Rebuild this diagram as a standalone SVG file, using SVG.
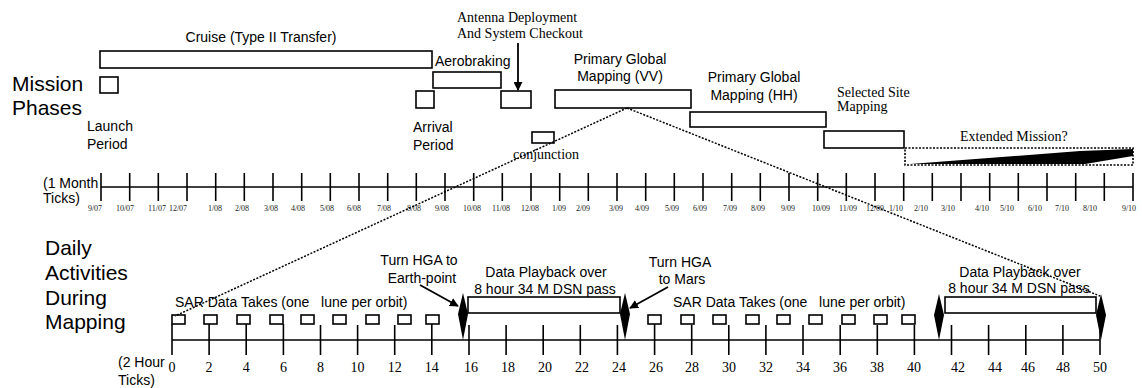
<svg xmlns="http://www.w3.org/2000/svg" width="1142" height="388" viewBox="0 0 1142 388">
<defs>
<style>
.box{fill:none;stroke:#000;stroke-width:1.6}
.sans{font-family:"Liberation Sans",Arial,sans-serif;font-size:14px;fill:#000}
.big{font-family:"Liberation Sans",Arial,sans-serif;font-size:21px;fill:#000}
.serif{font-family:"Liberation Serif","Times New Roman",serif;font-size:14px;fill:#000}
.mon{font-family:"Liberation Serif","Times New Roman",serif;font-size:8px;fill:#222;text-anchor:middle}
.hr{font-family:"Liberation Serif","Times New Roman",serif;font-size:14px;fill:#000;text-anchor:middle}
.tick{stroke:#000;stroke-width:1.6}
.dot{fill:none;stroke:#000;stroke-width:1.5;stroke-dasharray:2,1.5}
.arr{fill:none;stroke:#000;stroke-width:1.8}
.sq{fill:#fff;stroke:#000;stroke-width:1.6}
.dia{fill:#000;stroke:none}
</style>
<marker id="ah" viewBox="0 0 10 10" refX="9" refY="5" markerWidth="5" markerHeight="5" orient="auto" markerUnits="strokeWidth">
<path d="M0,0 L10,5 L0,10 z" fill="#000"/>
</marker>
</defs>
<rect width="1142" height="388" fill="#fff"/>

<!-- Titles -->
<g id="title-mission">
<text class="big" x="12" y="91">Mission</text>
<text class="big" x="12" y="115">Phases</text>
</g>
<g id="title-daily">
<text class="big" x="45" y="255">Daily</text>
<text class="big" x="45" y="280">Activities</text>
<text class="big" x="45" y="305">During</text>
<text class="big" x="45" y="329">Mapping</text>
</g>

<!-- Mission phases -->
<g id="phase-cruise">
<rect class="box" x="100" y="51" width="332" height="17"/>
<text class="sans" x="261" y="42" text-anchor="middle">Cruise (Type II Transfer)</text>
</g>
<g id="phase-launch">
<rect class="box" x="100" y="77" width="18" height="16"/>
<text class="sans" x="87" y="131">Launch</text>
<text class="sans" x="87" y="149">Period</text>
</g>
<g id="phase-aerobraking">
<rect class="box" x="433" y="72" width="68" height="16"/>
<text class="sans" x="435" y="66">Aerobraking</text>
</g>
<g id="phase-arrival">
<rect class="box" x="416" y="91" width="18" height="17"/>
<text class="sans" x="413" y="132">Arrival</text>
<text class="sans" x="413" y="150">Period</text>
</g>
<g id="phase-antenna">
<rect class="box" x="501" y="91" width="30" height="17"/>
<text class="serif" x="457" y="22">Antenna Deployment</text>
<text class="serif" x="457" y="38">And System Checkout</text>
</g>
<g id="phase-conjunction">
<rect class="box" x="532" y="132" width="22" height="11"/>
<text class="serif" x="513" y="159">conjunction</text>
</g>
<g id="phase-pgm-vv">
<rect class="box" x="555" y="90" width="136" height="18"/>
<text class="sans" x="620" y="64" text-anchor="middle">Primary Global</text>
<text class="sans" x="620" y="81" text-anchor="middle">Mapping (VV)</text>
</g>
<g id="phase-pgm-hh">
<rect class="box" x="690" y="112" width="136" height="15"/>
<text class="sans" x="754" y="82" text-anchor="middle">Primary Global</text>
<text class="sans" x="754" y="100" text-anchor="middle">Mapping (HH)</text>
</g>
<g id="phase-selected">
<rect class="box" x="824" y="131" width="80" height="17"/>
<text class="serif" x="837" y="97">Selected Site</text>
<text class="serif" x="837" y="111">Mapping</text>
</g>
<g id="phase-extended">
<rect x="905" y="148" width="228" height="17" fill="none" stroke="#000" stroke-width="1.6" stroke-dasharray="2,1.5"/>
<polygon points="910,164 1080,151 1133,149 1133,156 1085,164" fill="#000"/>
<text class="serif" x="960" y="141">Extended Mission?</text>
</g>

<!-- Month axis -->
<g id="month-axis">
<text class="sans" x="43" y="188">(1 Month</text>
<text class="sans" x="43" y="203">Ticks)</text>
<line class="tick" x1="101" y1="187" x2="1133" y2="187"/>
<g class="tick">
<line x1="101" y1="173" x2="101" y2="201"/><line x1="129.7" y1="173" x2="129.7" y2="201"/><line x1="158.3" y1="173" x2="158.3" y2="201"/><line x1="187" y1="173" x2="187" y2="201"/><line x1="215.7" y1="173" x2="215.7" y2="201"/><line x1="244.3" y1="173" x2="244.3" y2="201"/><line x1="273" y1="173" x2="273" y2="201"/><line x1="301.7" y1="173" x2="301.7" y2="201"/><line x1="330.3" y1="173" x2="330.3" y2="201"/><line x1="359" y1="173" x2="359" y2="201"/><line x1="387.7" y1="173" x2="387.7" y2="201"/><line x1="416.3" y1="173" x2="416.3" y2="201"/><line x1="445" y1="173" x2="445" y2="201"/><line x1="473.7" y1="173" x2="473.7" y2="201"/><line x1="502.3" y1="173" x2="502.3" y2="201"/><line x1="531" y1="173" x2="531" y2="201"/><line x1="559.7" y1="173" x2="559.7" y2="201"/><line x1="588.3" y1="173" x2="588.3" y2="201"/><line x1="617" y1="173" x2="617" y2="201"/><line x1="645.7" y1="173" x2="645.7" y2="201"/><line x1="674.3" y1="173" x2="674.3" y2="201"/><line x1="703" y1="173" x2="703" y2="201"/><line x1="731.7" y1="173" x2="731.7" y2="201"/><line x1="760.3" y1="173" x2="760.3" y2="201"/><line x1="789" y1="173" x2="789" y2="201"/><line x1="817.7" y1="173" x2="817.7" y2="201"/><line x1="846.3" y1="173" x2="846.3" y2="201"/><line x1="875" y1="173" x2="875" y2="201"/><line x1="903.7" y1="173" x2="903.7" y2="201"/><line x1="932.3" y1="173" x2="932.3" y2="201"/><line x1="961" y1="173" x2="961" y2="201"/><line x1="989.7" y1="173" x2="989.7" y2="201"/><line x1="1018.3" y1="173" x2="1018.3" y2="201"/><line x1="1047" y1="173" x2="1047" y2="201"/><line x1="1075.7" y1="173" x2="1075.7" y2="201"/><line x1="1104.3" y1="173" x2="1104.3" y2="201"/><line x1="1133" y1="173" x2="1133" y2="201"/>
</g>
<g>
<text class="mon" x="95" y="211">9/07</text><text class="mon" x="125" y="211">10/07</text><text class="mon" x="157" y="211">11/07</text><text class="mon" x="178" y="211">12/07</text><text class="mon" x="215" y="211">1/08</text><text class="mon" x="242" y="211">2/08</text><text class="mon" x="271" y="211">3/08</text><text class="mon" x="298" y="211">4/08</text><text class="mon" x="327" y="211">5/08</text><text class="mon" x="354" y="211">6/08</text><text class="mon" x="384" y="211">7/08</text><text class="mon" x="414" y="211">8/08</text><text class="mon" x="442" y="211">9/08</text><text class="mon" x="472" y="211">10/08</text><text class="mon" x="501" y="211">11/08</text><text class="mon" x="530" y="211">12/08</text><text class="mon" x="559" y="211">1/09</text><text class="mon" x="583" y="211">2/09</text><text class="mon" x="616" y="211">3/09</text><text class="mon" x="642" y="211">4/09</text><text class="mon" x="672" y="211">5/09</text><text class="mon" x="700" y="211">6/09</text><text class="mon" x="730" y="211">7/09</text><text class="mon" x="758" y="211">8/09</text><text class="mon" x="788" y="211">9/09</text><text class="mon" x="821" y="211">10/09</text><text class="mon" x="848" y="211">11/09</text><text class="mon" x="875" y="211">12/09</text><text class="mon" x="896" y="211">1/10</text><text class="mon" x="921" y="211">2/10</text><text class="mon" x="948" y="211">3/10</text><text class="mon" x="982" y="211">4/10</text><text class="mon" x="1007" y="211">5/10</text><text class="mon" x="1035" y="211">6/10</text><text class="mon" x="1062" y="211">7/10</text><text class="mon" x="1090" y="211">8/10</text><text class="mon" x="1129" y="211">9/10</text>
</g>
</g>

<!-- Hour axis -->
<g id="hour-axis">
<text class="sans" x="118" y="367">(2 Hour</text>
<text class="sans" x="118" y="385">Ticks)</text>
<line class="tick" x1="172" y1="340" x2="1100" y2="340"/>
<g class="tick">
<line x1="172" y1="324" x2="172" y2="355"/><line x1="209.1" y1="324" x2="209.1" y2="355"/><line x1="246.2" y1="324" x2="246.2" y2="355"/><line x1="283.4" y1="324" x2="283.4" y2="355"/><line x1="320.5" y1="325" x2="320.5" y2="355"/><line x1="357.6" y1="325" x2="357.6" y2="355"/><line x1="394.7" y1="325" x2="394.7" y2="355"/><line x1="431.8" y1="324" x2="431.8" y2="355"/><line x1="469" y1="325" x2="469" y2="355"/><line x1="506.1" y1="325" x2="506.1" y2="355"/><line x1="543.2" y1="325" x2="543.2" y2="355"/><line x1="580.3" y1="325" x2="580.3" y2="355"/><line x1="617.4" y1="325" x2="617.4" y2="355"/><line x1="654.6" y1="324" x2="654.6" y2="355"/><line x1="691.7" y1="325" x2="691.7" y2="355"/><line x1="728.8" y1="325" x2="728.8" y2="355"/><line x1="765.9" y1="325" x2="765.9" y2="355"/><line x1="803" y1="325" x2="803" y2="355"/><line x1="840.2" y1="325" x2="840.2" y2="355"/><line x1="877.3" y1="325" x2="877.3" y2="355"/><line x1="914.4" y1="325" x2="914.4" y2="355"/><line x1="951.5" y1="325" x2="951.5" y2="355"/><line x1="988.6" y1="325" x2="988.6" y2="355"/><line x1="1025.8" y1="325" x2="1025.8" y2="355"/><line x1="1062.9" y1="325" x2="1062.9" y2="355"/><line x1="1100" y1="325" x2="1100" y2="355"/>
</g>
<g>
<text class="hr" x="172" y="372">0</text><text class="hr" x="209.1" y="372">2</text><text class="hr" x="246.2" y="372">4</text><text class="hr" x="283.4" y="372">6</text><text class="hr" x="320.5" y="372">8</text><text class="hr" x="357.6" y="372">10</text><text class="hr" x="394.7" y="372">12</text><text class="hr" x="431.8" y="372">14</text><text class="hr" x="471" y="372">16</text><text class="hr" x="508" y="372">18</text><text class="hr" x="545" y="372">20</text><text class="hr" x="582" y="372">22</text><text class="hr" x="619" y="372">24</text><text class="hr" x="656" y="372">26</text><text class="hr" x="692" y="372">28</text><text class="hr" x="729" y="372">30</text><text class="hr" x="766" y="372">32</text><text class="hr" x="803" y="372">34</text><text class="hr" x="840" y="372">36</text><text class="hr" x="877" y="372">38</text><text class="hr" x="914" y="372">40</text><text class="hr" x="958" y="372">42</text><text class="hr" x="995" y="372">44</text><text class="hr" x="1028" y="372">46</text><text class="hr" x="1063" y="372">48</text><text class="hr" x="1100" y="372">50</text>
</g>
</g>

<!-- SAR data takes -->
<g id="sar-1">
<text class="sans" x="175" y="307" xml:space="preserve">SAR Data Takes (one   lune per orbit)</text>
<rect class="sq" x="172" y="315" width="13" height="9"/><rect class="sq" x="204" y="315" width="13" height="9"/><rect class="sq" x="237" y="315" width="13" height="9"/><rect class="sq" x="270" y="315" width="13" height="9"/><rect class="sq" x="301" y="315" width="13" height="9"/><rect class="sq" x="333" y="315" width="13" height="9"/><rect class="sq" x="366" y="315" width="13" height="9"/><rect class="sq" x="398" y="315" width="13" height="9"/><rect class="sq" x="426" y="315" width="13" height="9"/>
</g>
<g id="sar-2">
<text class="sans" x="673" y="307" xml:space="preserve">SAR Data Takes (one   lune per orbit)</text>
<rect class="sq" x="648" y="315" width="13" height="9"/><rect class="sq" x="681" y="315" width="13" height="9"/><rect class="sq" x="713" y="315" width="13" height="9"/><rect class="sq" x="746" y="315" width="13" height="9"/><rect class="sq" x="777" y="315" width="13" height="9"/><rect class="sq" x="809" y="315" width="13" height="9"/><rect class="sq" x="842" y="315" width="13" height="9"/><rect class="sq" x="874" y="315" width="13" height="9"/><rect class="sq" x="902" y="315" width="13" height="9"/>
</g>

<!-- Playback passes -->
<g id="playback-1">
<rect class="box" x="468" y="297" width="152" height="16"/>
<polygon class="dia" points="463,293 468,314 463,340 458,314"/>
<polygon class="dia" points="625,293 630,314 625,340 620,314"/>
<text class="sans" x="546" y="277" text-anchor="middle">Data Playback over</text>
<text class="sans" x="545" y="294" text-anchor="middle">8 hour 34 M DSN pass</text>
</g>
<g id="playback-2">
<rect class="box" x="945" y="297" width="151" height="16"/>
<polygon class="dia" points="939,294 944,315 939,340 934,315"/>
<polygon class="dia" points="1101,294 1106,315 1101,340 1096,315"/>
<text class="sans" x="1020" y="277" text-anchor="middle">Data Playback over</text>
<text class="sans" x="1019" y="293" text-anchor="middle">8 hour 34 M DSN pass</text>
</g>
<g id="turn-earth">
<text class="sans" x="419" y="265" text-anchor="middle">Turn HGA to</text>
<text class="sans" x="422" y="283" text-anchor="middle">Earth-point</text>
</g>
<g id="turn-mars">
<text class="sans" x="680" y="267" text-anchor="middle">Turn HGA</text>
<text class="sans" x="682" y="284" text-anchor="middle">to Mars</text>
</g>

<!-- Connectors -->
<g id="connectors">
<line class="arr" x1="518" y1="43" x2="518" y2="90" marker-end="url(#ah)"/>
<line class="arr" x1="420" y1="285" x2="458" y2="306" marker-end="url(#ah)"/>
<line class="arr" x1="668" y1="287" x2="630" y2="308" marker-end="url(#ah)"/>
<line class="dot" x1="627" y1="108" x2="175" y2="316"/>
<line class="dot" x1="627" y1="108" x2="1100" y2="296"/>
</g>
</svg>
